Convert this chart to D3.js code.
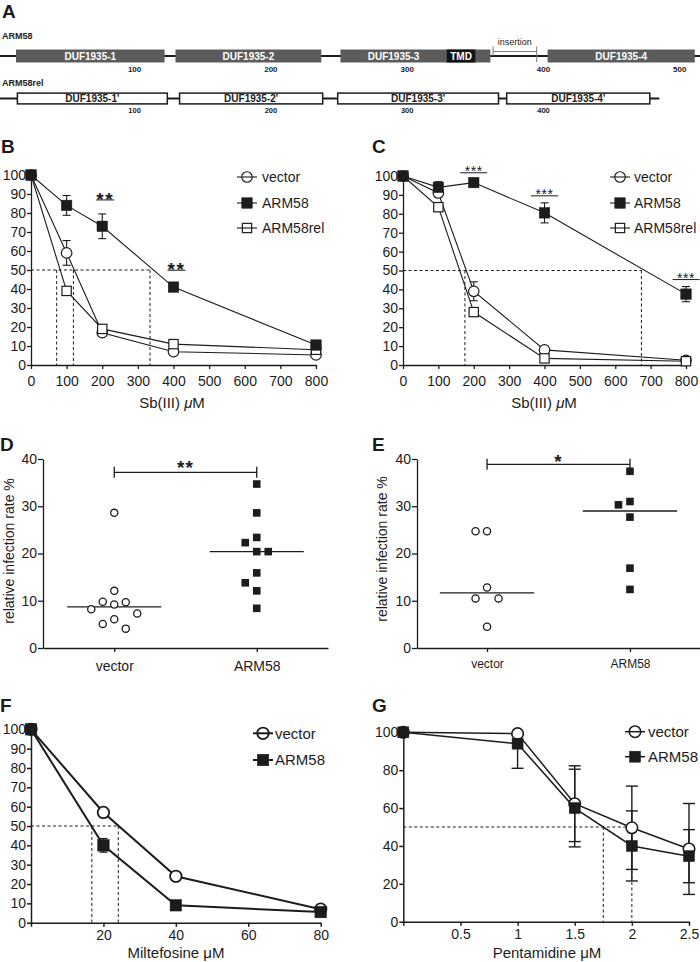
<!DOCTYPE html>
<html><head><meta charset="utf-8">
<script src="https://cdn.jsdelivr.net/npm/d3@7/dist/d3.min.js"></script>
<style>
html,body{margin:0;padding:0;background:#fff;}
svg text{font-family:"Liberation Sans",Arial,Helvetica,sans-serif;}
</style></head>
<body>
<svg id="fig" width="700" height="962" xmlns="http://www.w3.org/2000/svg"></svg>
<script>
// ===== Panel A: domain architecture (amino-acid positions) =====
const arm58Length = 515;
const arm58Domains = [
  {name:"DUF1935-1", start:13,  end:122},
  {name:"DUF1935-2", start:130, end:237},
  {name:"DUF1935-3", start:251, end:361},
  {name:"DUF1935-4", start:403, end:511}
];
const arm58TMD = {name:"TMD", start:329, end:350};
const arm58Insertion = {name:"insertion", start:363, end:395};
const arm58Ticks = [100,200,300,400,500];

const arm58relLength = 485;
const arm58relDomains = [
  {name:"DUF1935-1'", start:14,  end:124},
  {name:"DUF1935-2'", start:133, end:238},
  {name:"DUF1935-3'", start:249, end:367},
  {name:"DUF1935-4'", start:373, end:478}
];
const arm58relTicks = [100,200,300,400];

// ===== Panels B, C: Sb(III) survival (%) =====
const sbDoses = [0,100,200,400,800];
const sbTicks = [0,100,200,300,400,500,600,700,800];
const pctTicks10 = [0,10,20,30,40,50,60,70,80,90,100];
const pctTicks20 = [0,20,40,60,80,100];

const bVector = [100,59,17,7,5.3];
const bVectorErr = [0,6.5,1,1,1];
const bArm58 = [100,84,73,41,10.5];
const bArm58Err = [0,5.2,6.5,1.5,1.5];
const bArm58rel = [100,39,19,11,8];
const bArm58relErr = [0,1.5,1,1,1];
const bIC50 = [72,119,334];
const bSigDoses = [200,400];
const bSigLabel = "**";

const cVector = [100,91,39,8,2.5];
const cVectorErr = [0,2,5,1.5,0.5];
const cArm58 = [100,94,96.5,80.5,37.5];
const cArm58Err = [0,3,1.5,5.3,4];
const cArm58rel = [100,83.5,28,3.5,2];
const cArm58relErr = [0,1.5,1.5,1,0.5];
const cIC50 = [175,674];
const cSigDoses = [200,400,800];
const cSigLabel = "***";

// ===== Panels D, E: relative infection rate % =====
const groups = ["vector","ARM58"];
const infTicks = [0,10,20,30,40];
const dVector = [28.6,12.1,9.8,9.7,9.2,8.2,7.3,6.1,5.1,4.1];
const dArm58 = [34.7,28.6,23.4,22.3,20.4,20.4,15.9,13.8,12.1,8.4];
const dSigLabel = "**";
const eVector = [24.7,24.7,12.8,10.5,10.5,4.5];
const eArm58 = [37.4,31.0,30.3,27.7,16.9,12.4];
const eSigLabel = "*";

// ===== Panel F: Miltefosine =====
const milDoses = [0,20,40,80];
const milTicks = [0,20,40,60,80];
const fVector = [100,57,24,7];
const fVectorErr = [0,2,1.2,1];
const fArm58 = [100,40,9,5.5];
const fArm58Err = [0,3.5,1,1];
const fIC50 = [16.8,24.1];

// ===== Panel G: Pentamidine =====
const penDoses = [0,1,1.5,2,2.5];
const penTicks = [0,0.5,1,1.5,2,2.5];
const gVector = [100,99.3,62.3,49.6,38.4];
const gVectorErr = [0,1,20,22,24];
const gArm58 = [100,94,60,40,34.6];
const gArm58Err = [0,13,20.5,18.5,14];
const gIC50 = [1.75,2];

// ======================================================
const INK = "#1c1c1c";
const svg = d3.select("#fig");

function panelLetter(t,x,y){
  svg.append("text").attr("x",x).attr("y",y).attr("font-size",19).attr("font-weight","bold").attr("fill",INK).text(t);
}
function styleAxis(g,fs,sw){
  g.select(".domain").attr("stroke",INK).attr("stroke-width",sw);
  g.selectAll(".tick line").attr("stroke",INK).attr("stroke-width",sw);
  g.selectAll(".tick text").attr("font-size",fs).attr("fill",INK).attr("font-family",'"Liberation Sans",Arial,sans-serif');
}
function marker(g,type,cx,cy,size,sw,legend){
  if(type==="circle"){
    g.append("circle").attr("cx",cx).attr("cy",cy).attr("r",size/2)
     .attr("fill",legend?"none":"#fff").attr("stroke",INK).attr("stroke-width",sw);
  } else if(type==="square"){
    g.append("rect").attr("x",cx-size/2).attr("y",cy-size/2).attr("width",size).attr("height",size)
     .attr("fill",INK).attr("stroke",INK).attr("stroke-width",0.5);
  } else {
    const s=size-sw;
    g.append("rect").attr("x",cx-s/2).attr("y",cy-s/2).attr("width",s).attr("height",s)
     .attr("fill",legend?"none":"#fff").attr("stroke",INK).attr("stroke-width",sw);
  }
}

// ---------------- Panel A ----------------
panelLetter("A",2,18);
(function(){
  const xa = d3.scaleLinear().domain([0,500]).range([-1.7,679.8]);
  const g = svg.append("g");
  // ARM58 row
  g.append("text").attr("x",2).attr("y",38.5).attr("font-size",9).attr("font-weight","bold").attr("fill",INK).text("ARM58");
  const y1=56, h1=13;
  g.append("line").attr("x1",xa(0)).attr("x2",xa(arm58Length)).attr("y1",y1).attr("y2",y1).attr("stroke",INK).attr("stroke-width",2.2);
  g.selectAll("rect.d1").data(arm58Domains).join("rect").attr("class","d1")
    .attr("x",d=>xa(d.start)).attr("width",d=>xa(d.end)-xa(d.start))
    .attr("y",y1-h1/2).attr("height",h1).attr("fill","#5c5c5c");
  g.append("rect").attr("x",xa(arm58TMD.start)).attr("width",xa(arm58TMD.end)-xa(arm58TMD.start))
    .attr("y",y1-h1/2).attr("height",h1).attr("fill","#141414");
  g.selectAll("text.d1").data(arm58Domains).join("text").attr("class","d1")
    .attr("x",d=>{
      const e = (arm58TMD.start>d.start && arm58TMD.start<d.end) ? arm58TMD.start : d.end;
      return (xa(d.start)+xa(e))/2;})
    .attr("y",y1+3.6).attr("text-anchor","middle").attr("font-size",10).attr("font-weight","bold").attr("fill","#fff").text(d=>d.name);
  g.append("text").attr("x",(xa(arm58TMD.start)+xa(arm58TMD.end))/2).attr("y",y1+3.6).attr("text-anchor","middle")
    .attr("font-size",10).attr("font-weight","bold").attr("fill","#fff").text(arm58TMD.name);
  // insertion bracket
  const bi = svg.append("g").attr("stroke","#777").attr("stroke-width",1);
  bi.append("line").attr("x1",xa(arm58Insertion.start)).attr("x2",xa(arm58Insertion.end)).attr("y1",51.5).attr("y2",51.5);
  bi.append("line").attr("x1",xa(arm58Insertion.start)).attr("x2",xa(arm58Insertion.start)).attr("y1",46.5).attr("y2",56);
  bi.append("line").attr("x1",xa(arm58Insertion.end)).attr("x2",xa(arm58Insertion.end)).attr("y1",46.5).attr("y2",62);
  g.append("text").attr("x",(xa(arm58Insertion.start)+xa(arm58Insertion.end))/2).attr("y",45)
    .attr("text-anchor","middle").attr("font-size",9).attr("fill",INK).text(arm58Insertion.name);
  g.selectAll("text.t1").data(arm58Ticks).join("text").attr("class","t1")
    .attr("x",d=>xa(d)).attr("y",71.5).attr("text-anchor","middle").attr("font-size",8).attr("font-weight","bold").attr("fill",INK).text(d=>d);

  // ARM58rel row
  g.append("text").attr("x",2).attr("y",86).attr("font-size",9).attr("font-weight","bold").attr("fill",INK).text("ARM58rel");
  const y2=98.5, h2=10.8;
  g.append("line").attr("x1",xa(0)).attr("x2",xa(arm58relLength)).attr("y1",y2).attr("y2",y2).attr("stroke",INK).attr("stroke-width",2.2);
  g.selectAll("rect.d2").data(arm58relDomains).join("rect").attr("class","d2")
    .attr("x",d=>xa(d.start)).attr("width",d=>xa(d.end)-xa(d.start))
    .attr("y",y2-h2/2).attr("height",h2).attr("fill","#fff").attr("stroke",INK).attr("stroke-width",1.5);
  g.selectAll("text.d2").data(arm58relDomains).join("text").attr("class","d2")
    .attr("x",d=>(xa(d.start)+xa(d.end))/2).attr("y",y2+3.5).attr("text-anchor","middle")
    .attr("font-size",10).attr("font-weight","bold").attr("fill",INK).text(d=>d.name);
  g.selectAll("text.t2").data(arm58relTicks).join("text").attr("class","t2")
    .attr("x",d=>xa(d)).attr("y",113).attr("text-anchor","middle").attr("font-size",7.5).attr("font-weight","bold").attr("fill",INK).text(d=>d);
})();

// ---------------- dose-response panels ----------------
function dosePanel(o){
  const g = svg.append("g");
  const x = d3.scaleLinear().domain(o.xDomain).range(o.xRange);
  const y = d3.scaleLinear().domain([0,100]).range(o.yRange);
  // IC50 dashed guides
  const dg = g.append("g").attr("stroke",INK).attr("stroke-width",1).attr("stroke-dasharray","3,2.5");
  dg.append("line").attr("x1",x(0)).attr("x2",x(d3.max(o.ic50))).attr("y1",y(50)).attr("y2",y(50));
  dg.selectAll("line.v").data(o.ic50).join("line").attr("class","v")
    .attr("x1",d=>x(d)).attr("x2",d=>x(d)).attr("y1",y(50)).attr("y2",y(0));
  // axes
  const ax = g.append("g").attr("transform",`translate(0,${y(0)})`)
    .call(d3.axisBottom(x).tickValues(o.xTicks).tickFormat(o.xFormat).tickSize(4).tickSizeOuter(0).tickPadding(o.xPad));
  const ay = g.append("g").attr("transform",`translate(${x(0)},0)`)
    .call(d3.axisLeft(y).tickValues(o.yTicks).tickSize(4).tickSizeOuter(0).tickPadding(1));
  styleAxis(ax,o.fs,o.aw); styleAxis(ay,o.fs,o.aw);
  // axis title
  const t = g.append("text").attr("x",o.titleX).attr("y",o.titleY).attr("text-anchor","middle").attr("font-size",15).attr("fill",INK);
  t.append("tspan").text(o.title[0]);
  t.append("tspan").attr("font-style",o.italicMu?"italic":"normal").text("μ");
  t.append("tspan").text("M");
  // lines
  const line = d3.line().x(d=>x(d[0])).y(d=>y(d[1]));
  o.series.forEach(s=>{
    g.append("path").attr("d",line(o.doses.map((d,i)=>[d,s.values[i]])))
      .attr("fill","none").attr("stroke",INK).attr("stroke-width",o.lw);
  });
  // error bars (clipped to axis range)
  o.series.forEach(s=>{
    o.doses.forEach((d,i)=>{
      const e=s.err[i]; if(!e) return;
      const hi=Math.min(100,s.values[i]+e), lo=Math.max(0,s.values[i]-e);
      const cx=x(d);
      g.append("line").attr("x1",cx).attr("x2",cx).attr("y1",y(hi)).attr("y2",y(lo)).attr("stroke",INK).attr("stroke-width",o.ew);
      if(s.values[i]+e<=100) g.append("line").attr("x1",cx-o.cap).attr("x2",cx+o.cap).attr("y1",y(hi)).attr("y2",y(hi)).attr("stroke",INK).attr("stroke-width",o.ew);
      g.append("line").attr("x1",cx-o.cap).attr("x2",cx+o.cap).attr("y1",y(lo)).attr("y2",y(lo)).attr("stroke",INK).attr("stroke-width",o.ew);
    });
  });
  // markers
  o.series.forEach(s=>{
    o.doses.forEach((d,i)=>marker(g,s.marker,x(d),y(s.values[i]),s.marker==="circle"?o.cs:o.ss,o.mw,false));
  });
  // significance
  if(o.sig){
    const s=o.series[o.sig.ref];
    o.sig.doses.forEach(d=>{
      const i=o.doses.indexOf(d);
      const by=y(Math.min(100,s.values[i]+s.err[i]))-o.sig.gap;
      const cx=x(d)+o.sig.dx;
      g.append("line").attr("x1",cx-o.sig.w/2).attr("x2",cx+o.sig.w/2).attr("y1",by).attr("y2",by).attr("stroke",INK).attr("stroke-width",1);
      g.append("text").attr("x",cx).attr("y",by-o.sig.up+0.573*o.sig.fs).attr("text-anchor","middle")
        .attr("font-size",o.sig.fs).attr("font-weight",o.sig.bold?"bold":"normal").attr("letter-spacing",o.sig.ls)
        .attr("fill",INK).text(o.sig.label);
    });
  }
  // legend
  o.series.slice().sort((a,b)=>a.order-b.order).forEach((s,k)=>{
    const ly=o.legend.ys[k];
    g.append("line").attr("x1",o.legend.x1).attr("x2",o.legend.x2).attr("y1",ly).attr("y2",ly).attr("stroke",INK).attr("stroke-width",o.lw);
    marker(g,s.marker,(o.legend.x1+o.legend.x2)/2,ly,s.marker==="circle"?o.cs:o.ss,o.mw,true);
    g.append("text").attr("x",o.legend.tx).attr("y",ly).attr("dy","0.36em").attr("font-size",o.legend.fs).attr("fill",INK).text(s.name);
  });
}

panelLetter("B",1,153);
dosePanel({
  xDomain:[0,800], xRange:[31,316], yRange:[365,175],
  doses:sbDoses, xTicks:sbTicks, xFormat:d3.format("d"), yTicks:pctTicks10, xPad:7, fs:14, aw:1.3,
  title:["Sb(III) "], italicMu:true, titleX:172, titleY:408,
  lw:1.1, ew:1.1, cap:4, cs:10.5, ss:10.5, mw:1.2,
  ic50:bIC50,
  series:[
    {name:"vector", values:bVector, err:bVectorErr, marker:"circle", order:0},
    {name:"ARM58rel", values:bArm58rel, err:bArm58relErr, marker:"open", order:2},
    {name:"ARM58", values:bArm58, err:bArm58Err, marker:"square", order:1}
  ],
  sig:{ref:2, doses:bSigDoses, label:bSigLabel, gap:14, w:18, fs:19, up:5, dx:3, bold:true, ls:1.5},
  legend:{x1:237, x2:257, tx:262, ys:[177,203,228], fs:14}
});

panelLetter("C",372,153);
dosePanel({
  xDomain:[0,800], xRange:[403,686], yRange:[365,176],
  doses:sbDoses, xTicks:sbTicks, xFormat:d3.format("d"), yTicks:pctTicks10, xPad:7, fs:14, aw:1.3,
  title:["Sb(III) "], italicMu:true, titleX:544, titleY:408,
  lw:1.1, ew:1.1, cap:4, cs:10.5, ss:10.5, mw:1.2,
  ic50:cIC50,
  series:[
    {name:"vector", values:cVector, err:cVectorErr, marker:"circle", order:0},
    {name:"ARM58rel", values:cArm58rel, err:cArm58relErr, marker:"open", order:2},
    {name:"ARM58", values:cArm58, err:cArm58Err, marker:"square", order:1}
  ],
  sig:{ref:2, doses:cSigDoses, label:cSigLabel, gap:7, w:27, fs:14, up:4.5, dx:0, bold:false, ls:0.5},
  legend:{x1:610, x2:630, tx:634, ys:[177,203,228], fs:14}
});

// ---------------- scatter panels D, E ----------------
function swarm(values, cx, y, step, minDy){
  const placed=[]; const order=[0,-1,1,-2,2,-3,3];
  values.map(v=>v).sort((a,b)=>b-a).forEach(v=>{
    const py=y(v);
    for(const c of order){
      if(!placed.some(q=>q.c===c && Math.abs(q.py-py)<minDy)){ placed.push({v,c,py}); break; }
    }
  });
  return placed.map(q=>({v:q.v, x:cx+q.c*step, y:q.py}));
}
function scatterPanel(o){
  const g=svg.append("g");
  const x=d3.scalePoint().domain(groups).range(o.xRange).padding(o.pad);
  const y=d3.scaleLinear().domain([0,40]).range(o.yRange);
  const ax=g.append("g").attr("transform",`translate(0,${y(0)})`)
    .call(d3.axisBottom(x).tickSize(4).tickSizeOuter(0).tickPadding(o.xPad));
  const ay=g.append("g").attr("transform",`translate(${o.xRange[0]},0)`)
    .call(d3.axisLeft(y).tickValues(infTicks).tickSize(5).tickSizeOuter(0).tickPadding(1));
  styleAxis(ax,o.xfs,1.3); styleAxis(ay,14,1.3);
  g.append("text").attr("transform",`translate(${o.labX},${o.labY}) rotate(-90)`).attr("text-anchor","middle")
    .attr("font-size",14).attr("fill",INK).text("relative infection rate %");
  const step=x.step();
  const hw=step*0.33;
  [[o.vector,"circle"],[o.arm,"square"]].forEach(([vals,type],k)=>{
    const cx=x(groups[k]);
    const med=d3.median(vals);
    g.append("line").attr("x1",cx-hw).attr("x2",cx+hw).attr("y1",y(med)).attr("y2",y(med)).attr("stroke",INK).attr("stroke-width",1.3);
    swarm(vals,cx,y,11.5,12).forEach(p=>{
      if(type==="circle") g.append("circle").attr("cx",p.x).attr("cy",p.y).attr("r",3.6).attr("fill","#fff").attr("stroke",INK).attr("stroke-width",1.3);
      else g.append("rect").attr("x",p.x-3.8).attr("y",p.y-3.8).attr("width",7.6).attr("height",7.6).attr("fill",INK);
    });
  });
  // bracket
  const by=y(40)+o.brOff, x1=x(groups[0]), x2=x(groups[1]);
  g.append("path").attr("d",`M${x1},${by-5.5}V${by+5.5}M${x1},${by}H${x2}M${x2},${by-5.5}V${by+5.5}`)
    .attr("fill","none").attr("stroke",INK).attr("stroke-width",1.3);
  g.append("text").attr("x",(x1+x2)/2).attr("y",by-o.starUp+0.573*19).attr("text-anchor","middle")
    .attr("font-size",19).attr("font-weight","bold").attr("letter-spacing",1).attr("fill",INK).text(o.sig);
}
panelLetter("D",0,451);
scatterPanel({xRange:[43,328], pad:0.5, yRange:[648,459], xPad:9, xfs:14, labX:14, labY:551,
  vector:dVector, arm:dArm58, brOff:13.3, starUp:9, sig:dSigLabel});
panelLetter("E",372,451);
scatterPanel({xRange:[417,700], pad:0.49, yRange:[648,459], xPad:7, xfs:12, labX:387, labY:549,
  vector:eVector, arm:eArm58, brOff:5.3, starUp:7.6, sig:eSigLabel});

// ---------------- F, G ----------------
panelLetter("F",0,712);
dosePanel({
  xDomain:[0,80], xRange:[31,320.7], yRange:[922.7,729.3],
  doses:milDoses, xTicks:milTicks, xFormat:d=>d===0?"":d, yTicks:pctTicks10, xPad:3, fs:14, aw:1.5,
  title:["Miltefosine "], italicMu:false, titleX:176, titleY:958,
  lw:2, ew:1.3, cap:4, cs:11.5, ss:11.5, mw:1.8,
  ic50:fIC50,
  series:[
    {name:"vector", values:fVector, err:fVectorErr, marker:"circle", order:0},
    {name:"ARM58", values:fArm58, err:fArm58Err, marker:"square", order:1}
  ],
  legend:{x1:253, x2:273, tx:275, ys:[733.3,760], fs:15}
});
panelLetter("G",372,712);
dosePanel({
  xDomain:[0,2.5], xRange:[403.3,689], yRange:[921.7,732.3],
  doses:penDoses, xTicks:penTicks, xFormat:d=>d===0?"":d, yTicks:pctTicks20, xPad:3, fs:14, aw:1.5,
  title:["Pentamidine "], italicMu:false, titleX:547, titleY:958,
  lw:1.5, ew:1.4, cap:6, cs:11.5, ss:11, mw:1.6,
  ic50:gIC50,
  series:[
    {name:"vector", values:gVector, err:gVectorErr, marker:"circle", order:0},
    {name:"ARM58", values:gArm58, err:gArm58Err, marker:"square", order:1}
  ],
  legend:{x1:625, x2:645, tx:648, ys:[731.7,756.7], fs:15}
});
</script>
</body></html>
